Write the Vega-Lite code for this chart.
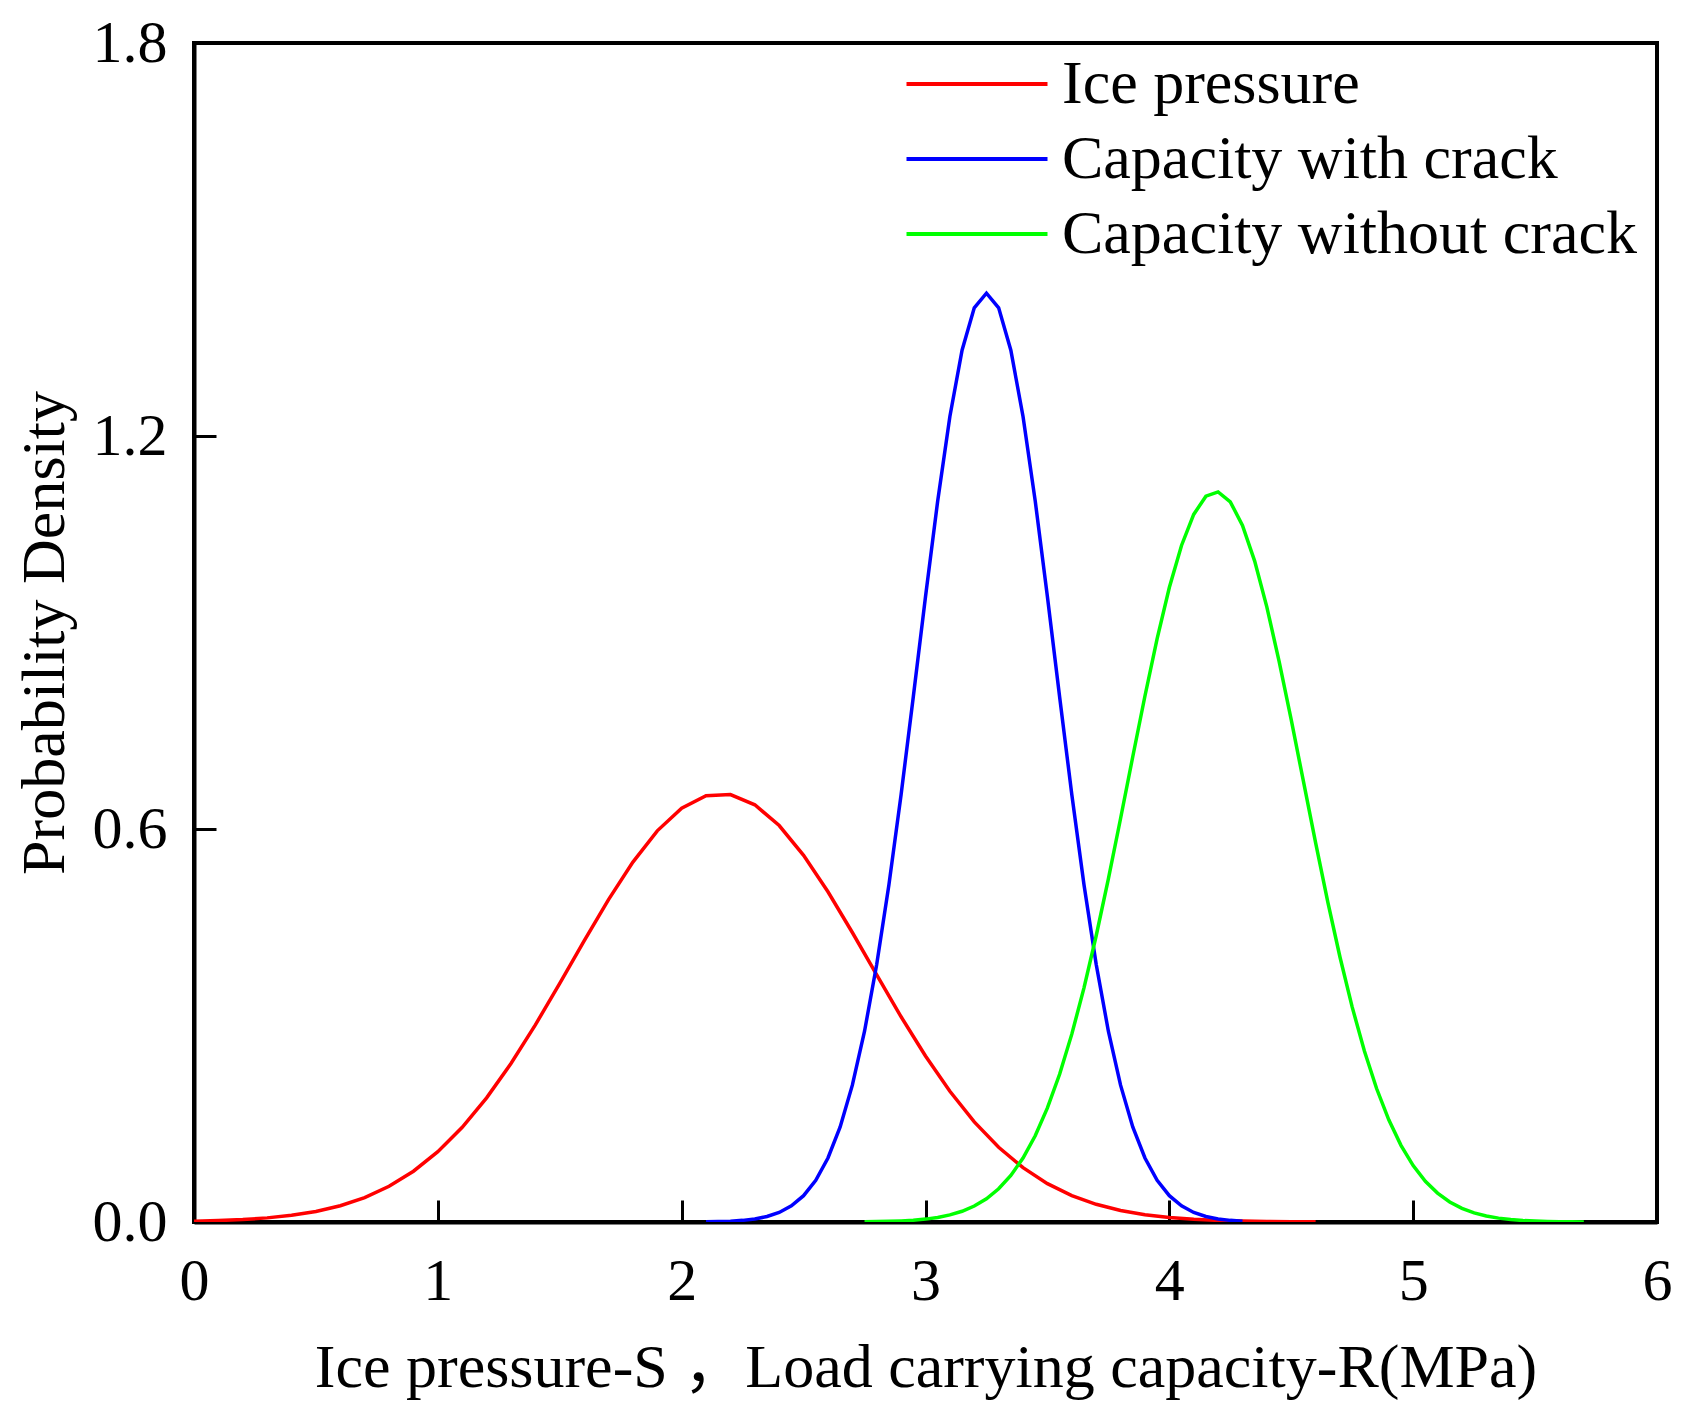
{
  "$schema": "https://vega.github.io/schema/vega-lite/v6.json",
  "width": 1463,
  "height": 1179,
  "autosize": {"type": "none"},
  "padding": {"left": 194, "top": 43, "right": 32, "bottom": 188},
  "background": "white",
  "config": {
    "view": {"stroke": "black", "strokeWidth": 4},
    "font": "Liberation Serif"
  },
  "data": {
    "values": [
      {"x": 0.0, "y": 0.0012, "s": "Ice pressure"},
      {"x": 0.1, "y": 0.0022, "s": "Ice pressure"},
      {"x": 0.2, "y": 0.0037, "s": "Ice pressure"},
      {"x": 0.3, "y": 0.0063, "s": "Ice pressure"},
      {"x": 0.4, "y": 0.0102, "s": "Ice pressure"},
      {"x": 0.5, "y": 0.0161, "s": "Ice pressure"},
      {"x": 0.6, "y": 0.0249, "s": "Ice pressure"},
      {"x": 0.7, "y": 0.0373, "s": "Ice pressure"},
      {"x": 0.8, "y": 0.0545, "s": "Ice pressure"},
      {"x": 0.9, "y": 0.0775, "s": "Ice pressure"},
      {"x": 1.0, "y": 0.1073, "s": "Ice pressure"},
      {"x": 1.1, "y": 0.1445, "s": "Ice pressure"},
      {"x": 1.2, "y": 0.1896, "s": "Ice pressure"},
      {"x": 1.3, "y": 0.2420, "s": "Ice pressure"},
      {"x": 1.4, "y": 0.3010, "s": "Ice pressure"},
      {"x": 1.5, "y": 0.3642, "s": "Ice pressure"},
      {"x": 1.6, "y": 0.4291, "s": "Ice pressure"},
      {"x": 1.7, "y": 0.4922, "s": "Ice pressure"},
      {"x": 1.8, "y": 0.5495, "s": "Ice pressure"},
      {"x": 1.9, "y": 0.5972, "s": "Ice pressure"},
      {"x": 2.0, "y": 0.6319, "s": "Ice pressure"},
      {"x": 2.1, "y": 0.6509, "s": "Ice pressure"},
      {"x": 2.2, "y": 0.6526, "s": "Ice pressure"},
      {"x": 2.3, "y": 0.6370, "s": "Ice pressure"},
      {"x": 2.4, "y": 0.6053, "s": "Ice pressure"},
      {"x": 2.5, "y": 0.5599, "s": "Ice pressure"},
      {"x": 2.6, "y": 0.5042, "s": "Ice pressure"},
      {"x": 2.7, "y": 0.4420, "s": "Ice pressure"},
      {"x": 2.8, "y": 0.3772, "s": "Ice pressure"},
      {"x": 2.9, "y": 0.3133, "s": "Ice pressure"},
      {"x": 3.0, "y": 0.2534, "s": "Ice pressure"},
      {"x": 3.1, "y": 0.1995, "s": "Ice pressure"},
      {"x": 3.2, "y": 0.1529, "s": "Ice pressure"},
      {"x": 3.3, "y": 0.1141, "s": "Ice pressure"},
      {"x": 3.4, "y": 0.0829, "s": "Ice pressure"},
      {"x": 3.5, "y": 0.0586, "s": "Ice pressure"},
      {"x": 3.6, "y": 0.0403, "s": "Ice pressure"},
      {"x": 3.7, "y": 0.0270, "s": "Ice pressure"},
      {"x": 3.8, "y": 0.0176, "s": "Ice pressure"},
      {"x": 3.9, "y": 0.0112, "s": "Ice pressure"},
      {"x": 4.0, "y": 0.0069, "s": "Ice pressure"},
      {"x": 4.1, "y": 0.0042, "s": "Ice pressure"},
      {"x": 4.2, "y": 0.0024, "s": "Ice pressure"},
      {"x": 4.3, "y": 0.0014, "s": "Ice pressure"},
      {"x": 4.4, "y": 0.0008, "s": "Ice pressure"},
      {"x": 4.5, "y": 0.0004, "s": "Ice pressure"},
      {"x": 4.6, "y": 0.0002, "s": "Ice pressure"},

      {"x": 2.10, "y": 0.0003, "s": "Capacity with crack"},
      {"x": 2.15, "y": 0.0007, "s": "Capacity with crack"},
      {"x": 2.20, "y": 0.0013, "s": "Capacity with crack"},
      {"x": 2.25, "y": 0.0025, "s": "Capacity with crack"},
      {"x": 2.30, "y": 0.0047, "s": "Capacity with crack"},
      {"x": 2.35, "y": 0.0084, "s": "Capacity with crack"},
      {"x": 2.40, "y": 0.0146, "s": "Capacity with crack"},
      {"x": 2.45, "y": 0.0246, "s": "Capacity with crack"},
      {"x": 2.50, "y": 0.0402, "s": "Capacity with crack"},
      {"x": 2.55, "y": 0.0637, "s": "Capacity with crack"},
      {"x": 2.60, "y": 0.0977, "s": "Capacity with crack"},
      {"x": 2.65, "y": 0.1451, "s": "Capacity with crack"},
      {"x": 2.70, "y": 0.2089, "s": "Capacity with crack"},
      {"x": 2.75, "y": 0.2913, "s": "Capacity with crack"},
      {"x": 2.80, "y": 0.3934, "s": "Capacity with crack"},
      {"x": 2.85, "y": 0.5149, "s": "Capacity with crack"},
      {"x": 2.90, "y": 0.6527, "s": "Capacity with crack"},
      {"x": 2.95, "y": 0.8020, "s": "Capacity with crack"},
      {"x": 3.00, "y": 0.9545, "s": "Capacity with crack"},
      {"x": 3.05, "y": 1.1008, "s": "Capacity with crack"},
      {"x": 3.10, "y": 1.2297, "s": "Capacity with crack"},
      {"x": 3.15, "y": 1.3309, "s": "Capacity with crack"},
      {"x": 3.20, "y": 1.3957, "s": "Capacity with crack"},
      {"x": 3.25, "y": 1.4180, "s": "Capacity with crack"},
      {"x": 3.30, "y": 1.3957, "s": "Capacity with crack"},
      {"x": 3.35, "y": 1.3309, "s": "Capacity with crack"},
      {"x": 3.40, "y": 1.2297, "s": "Capacity with crack"},
      {"x": 3.45, "y": 1.1008, "s": "Capacity with crack"},
      {"x": 3.50, "y": 0.9545, "s": "Capacity with crack"},
      {"x": 3.55, "y": 0.8020, "s": "Capacity with crack"},
      {"x": 3.60, "y": 0.6527, "s": "Capacity with crack"},
      {"x": 3.65, "y": 0.5149, "s": "Capacity with crack"},
      {"x": 3.70, "y": 0.3934, "s": "Capacity with crack"},
      {"x": 3.75, "y": 0.2913, "s": "Capacity with crack"},
      {"x": 3.80, "y": 0.2089, "s": "Capacity with crack"},
      {"x": 3.85, "y": 0.1451, "s": "Capacity with crack"},
      {"x": 3.90, "y": 0.0977, "s": "Capacity with crack"},
      {"x": 3.95, "y": 0.0637, "s": "Capacity with crack"},
      {"x": 4.00, "y": 0.0402, "s": "Capacity with crack"},
      {"x": 4.05, "y": 0.0246, "s": "Capacity with crack"},
      {"x": 4.10, "y": 0.0146, "s": "Capacity with crack"},
      {"x": 4.15, "y": 0.0084, "s": "Capacity with crack"},
      {"x": 4.20, "y": 0.0047, "s": "Capacity with crack"},
      {"x": 4.25, "y": 0.0025, "s": "Capacity with crack"},
      {"x": 4.30, "y": 0.0013, "s": "Capacity with crack"},

      {"x": 2.75, "y": 0.0003, "s": "Capacity without crack"},
      {"x": 2.80, "y": 0.0006, "s": "Capacity without crack"},
      {"x": 2.85, "y": 0.0010, "s": "Capacity without crack"},
      {"x": 2.90, "y": 0.0017, "s": "Capacity without crack"},
      {"x": 2.95, "y": 0.0028, "s": "Capacity without crack"},
      {"x": 3.00, "y": 0.0044, "s": "Capacity without crack"},
      {"x": 3.05, "y": 0.0070, "s": "Capacity without crack"},
      {"x": 3.10, "y": 0.0108, "s": "Capacity without crack"},
      {"x": 3.15, "y": 0.0164, "s": "Capacity without crack"},
      {"x": 3.20, "y": 0.0244, "s": "Capacity without crack"},
      {"x": 3.25, "y": 0.0355, "s": "Capacity without crack"},
      {"x": 3.30, "y": 0.0507, "s": "Capacity without crack"},
      {"x": 3.35, "y": 0.0711, "s": "Capacity without crack"},
      {"x": 3.40, "y": 0.0977, "s": "Capacity without crack"},
      {"x": 3.45, "y": 0.1317, "s": "Capacity without crack"},
      {"x": 3.50, "y": 0.1741, "s": "Capacity without crack"},
      {"x": 3.55, "y": 0.2256, "s": "Capacity without crack"},
      {"x": 3.60, "y": 0.2868, "s": "Capacity without crack"},
      {"x": 3.65, "y": 0.3575, "s": "Capacity without crack"},
      {"x": 3.70, "y": 0.4370, "s": "Capacity without crack"},
      {"x": 3.75, "y": 0.5239, "s": "Capacity without crack"},
      {"x": 3.80, "y": 0.6160, "s": "Capacity without crack"},
      {"x": 3.85, "y": 0.7103, "s": "Capacity without crack"},
      {"x": 3.90, "y": 0.8031, "s": "Capacity without crack"},
      {"x": 3.95, "y": 0.8907, "s": "Capacity without crack"},
      {"x": 4.00, "y": 0.9686, "s": "Capacity without crack"},
      {"x": 4.05, "y": 1.0329, "s": "Capacity without crack"},
      {"x": 4.10, "y": 1.0803, "s": "Capacity without crack"},
      {"x": 4.15, "y": 1.1081, "s": "Capacity without crack"},
      {"x": 4.20, "y": 1.1146, "s": "Capacity without crack"},
      {"x": 4.25, "y": 1.0995, "s": "Capacity without crack"},
      {"x": 4.30, "y": 1.0636, "s": "Capacity without crack"},
      {"x": 4.35, "y": 1.0090, "s": "Capacity without crack"},
      {"x": 4.40, "y": 0.9387, "s": "Capacity without crack"},
      {"x": 4.45, "y": 0.8564, "s": "Capacity without crack"},
      {"x": 4.50, "y": 0.7665, "s": "Capacity without crack"},
      {"x": 4.55, "y": 0.6726, "s": "Capacity without crack"},
      {"x": 4.60, "y": 0.5787, "s": "Capacity without crack"},
      {"x": 4.65, "y": 0.4884, "s": "Capacity without crack"},
      {"x": 4.70, "y": 0.4042, "s": "Capacity without crack"},
      {"x": 4.75, "y": 0.3280, "s": "Capacity without crack"},
      {"x": 4.80, "y": 0.2611, "s": "Capacity without crack"},
      {"x": 4.85, "y": 0.2038, "s": "Capacity without crack"},
      {"x": 4.90, "y": 0.1560, "s": "Capacity without crack"},
      {"x": 4.95, "y": 0.1171, "s": "Capacity without crack"},
      {"x": 5.00, "y": 0.0862, "s": "Capacity without crack"},
      {"x": 5.05, "y": 0.0622, "s": "Capacity without crack"},
      {"x": 5.10, "y": 0.0441, "s": "Capacity without crack"},
      {"x": 5.15, "y": 0.0306, "s": "Capacity without crack"},
      {"x": 5.20, "y": 0.0208, "s": "Capacity without crack"},
      {"x": 5.25, "y": 0.0139, "s": "Capacity without crack"},
      {"x": 5.30, "y": 0.0091, "s": "Capacity without crack"},
      {"x": 5.35, "y": 0.0059, "s": "Capacity without crack"},
      {"x": 5.40, "y": 0.0037, "s": "Capacity without crack"},
      {"x": 5.45, "y": 0.0023, "s": "Capacity without crack"},
      {"x": 5.50, "y": 0.0014, "s": "Capacity without crack"},
      {"x": 5.55, "y": 0.0008, "s": "Capacity without crack"},
      {"x": 5.60, "y": 0.0005, "s": "Capacity without crack"},
      {"x": 5.65, "y": 0.0003, "s": "Capacity without crack"},
      {"x": 5.70, "y": 0.0001, "s": "Capacity without crack"}
    ]
  },
  "mark": {"type": "line", "strokeWidth": 3.5, "clip": true},
  "encoding": {
    "x": {
      "field": "x",
      "type": "quantitative",
      "scale": {"domain": [0, 6], "nice": false, "zero": false},
      "axis": {
        "values": [0, 1, 2, 3, 4, 5, 6],
        "format": "d",
        "grid": false,
        "domainColor": "black",
        "domainWidth": 4,
        "tickColor": "black",
        "tickWidth": 3,
        "tickSize": -22,
        "labelFont": "Liberation Serif",
        "labelFontSize": 60,
        "labelColor": "black",
        "labelPadding": 52,
        "labelFlush": false,
        "title": "Ice pressure-S ，Load carrying capacity-R(MPa)",
        "titleFont": "Liberation Serif, 'Noto Sans CJK SC'",
        "titleFontSize": 62,
        "titleFontWeight": "normal",
        "titleColor": "black",
        "titleBaseline": "alphabetic",
        "titleY": 164
      }
    },
    "y": {
      "field": "y",
      "type": "quantitative",
      "scale": {"domain": [0, 1.8], "nice": false, "zero": false},
      "axis": {
        "values": [0, 0.6, 1.2, 1.8],
        "format": ".1f",
        "grid": false,
        "domainColor": "black",
        "domainWidth": 4,
        "tickColor": "black",
        "tickWidth": 3,
        "tickSize": -22,
        "labelFont": "Liberation Serif",
        "labelFontSize": 60,
        "labelColor": "black",
        "labelPadding": 49,
        "labelFlush": false,
        "title": "Probability Density",
        "titleFont": "Liberation Serif",
        "titleFontSize": 62,
        "titleFontWeight": "normal",
        "titleColor": "black",
        "titleBaseline": "alphabetic",
        "titleX": -131
      }
    },
    "color": {
      "field": "s",
      "type": "nominal",
      "sort": null,
      "scale": {
        "domain": ["Ice pressure", "Capacity with crack", "Capacity without crack"],
        "range": ["#FF0000", "#0000FF", "#00FF00"]
      },
      "legend": {
        "title": null,
        "orient": "none",
        "legendX": 752,
        "legendY": 10,
        "symbolType": "M-3,0H3",
        "symbolSize": 2209,
        "symbolStrokeWidth": 4,
        "labelFont": "Liberation Serif",
        "labelFontSize": 62,
        "labelColor": "black",
        "labelOffset": 54,
        "labelLimit": 0,
        "padding": 0,
        "rowPadding": 13
      }
    }
  }
}
